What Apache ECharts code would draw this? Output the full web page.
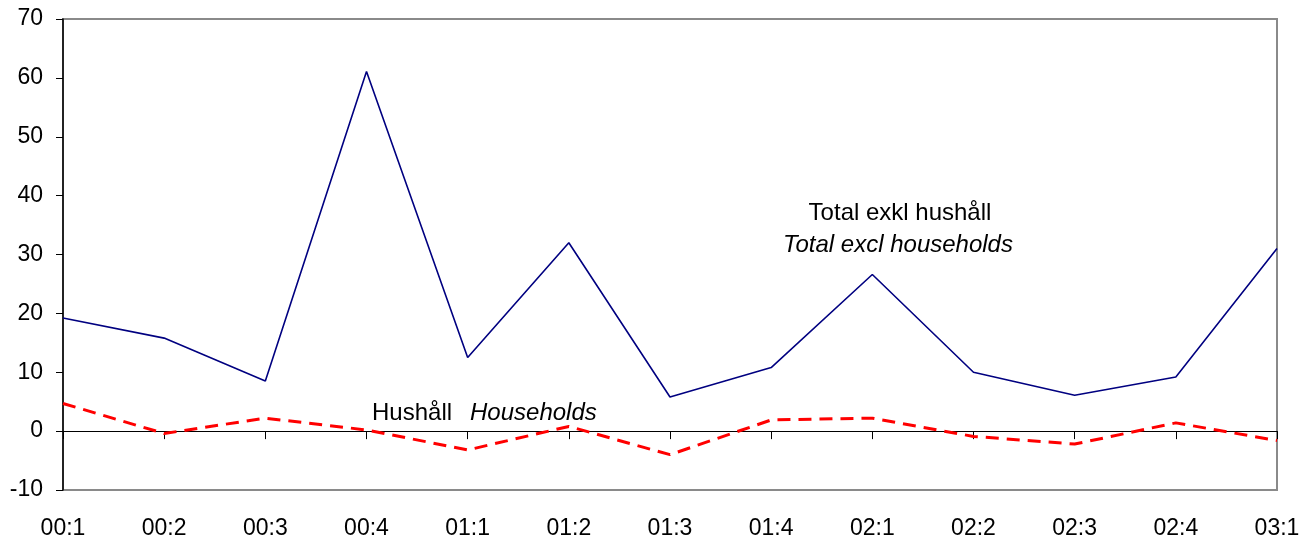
<!DOCTYPE html>
<html>
<head>
<meta charset="utf-8">
<script src="https://cdn.jsdelivr.net/npm/echarts@6/dist/echarts.min.js"></script>
<style>
html, body { margin: 0; padding: 0; background: #fff; }
#chart { width: 1316px; height: 540px; }
</style>
</head>
<body>
<div id="chart"></div>
<script>
// kvartal
var categories = ['00:1', '00:2', '00:3', '00:4', '01:1', '01:2', '01:3', '01:4', '02:1', '02:2', '02:3', '02:4', '03:1'];
// Total exkl hushåll
var totalData = [19.2, 15.8, 8.5, 61.1, 12.5, 32.0, 5.8, 10.8, 26.6, 10.0, 6.1, 9.2, 31.0];
// Hushåll
var householdData = [4.7, -0.4, 2.2, 0.2, -3.2, 0.8, -4.0, 1.9, 2.2, -0.9, -2.2, 1.4, -1.6];
var yMin = -10, yMax = 70, yStep = 10;

var font = 'Liberation Sans, Arial, sans-serif';
var myChart = echarts.init(document.getElementById('chart'));

var option = {
    backgroundColor: '#fff',
    animation: false,
    grid: {
        left: 63,
        right: 39,
        top: 19,
        bottom: 49,
        show: true,
        borderColor: '#8a8a8a',
        borderWidth: 2
    },
    xAxis: [
        {
            // etiketter längst ner
            type: 'category',
            data: categories,
            boundaryGap: false,
            position: 'bottom',
            axisLine: { show: false, onZero: false },
            axisTick: { show: false },
            axisLabel: { color: '#000', fontSize: 23, fontFamily: font, margin: 27, interval: 0 },
            splitLine: { show: false }
        },
        {
            // nollinjen med streck
            type: 'category',
            data: categories,
            boundaryGap: false,
            position: 'top',
            axisLine: { show: true, onZero: true, lineStyle: { color: '#000', width: 1.2 } },
            axisTick: { show: true, inside: true, length: 8, lineStyle: { color: '#000', width: 1 } },
            axisLabel: { show: false },
            splitLine: { show: false }
        }
    ],
    yAxis: {
        type: 'value',
        min: yMin,
        max: yMax,
        interval: yStep,
        axisLine: { show: true, lineStyle: { color: '#000', width: 1.5 } },
        axisTick: { show: true, length: 7, lineStyle: { color: '#000' } },
        axisLabel: { color: '#000', fontSize: 23, fontFamily: font, margin: 20 },
        splitLine: { show: false }
    },
    series: [
        {
            name: 'Total exkl hushåll',
            type: 'line',
            xAxisIndex: 1,
            data: totalData,
            symbol: 'none',
            lineStyle: { color: '#000080', width: 1.6 }
        },
        {
            name: 'Hushåll',
            type: 'line',
            xAxisIndex: 1,
            data: householdData,
            symbol: 'none',
            lineStyle: { color: '#ff0000', width: 3, type: [13, 8] }
        }
    ],
    graphic: [
        {
            type: 'text', x: 900, y: 213,
            style: { text: 'Total exkl hushåll', font: '24px ' + font, fill: '#000', align: 'center', verticalAlign: 'middle' }
        },
        {
            type: 'text', x: 898, y: 245,
            style: { text: 'Total excl households', font: 'italic 24px ' + font, fill: '#000', align: 'center', verticalAlign: 'middle' }
        },
        {
            type: 'text', x: 372, y: 413,
            style: { text: 'Hushåll', font: '24px ' + font, fill: '#000', align: 'left', verticalAlign: 'middle' }
        },
        {
            type: 'text', x: 470, y: 413,
            style: { text: 'Households', font: 'italic 24px ' + font, fill: '#000', align: 'left', verticalAlign: 'middle' }
        }
    ]
};
myChart.setOption(option);
</script>
</body>
</html>
